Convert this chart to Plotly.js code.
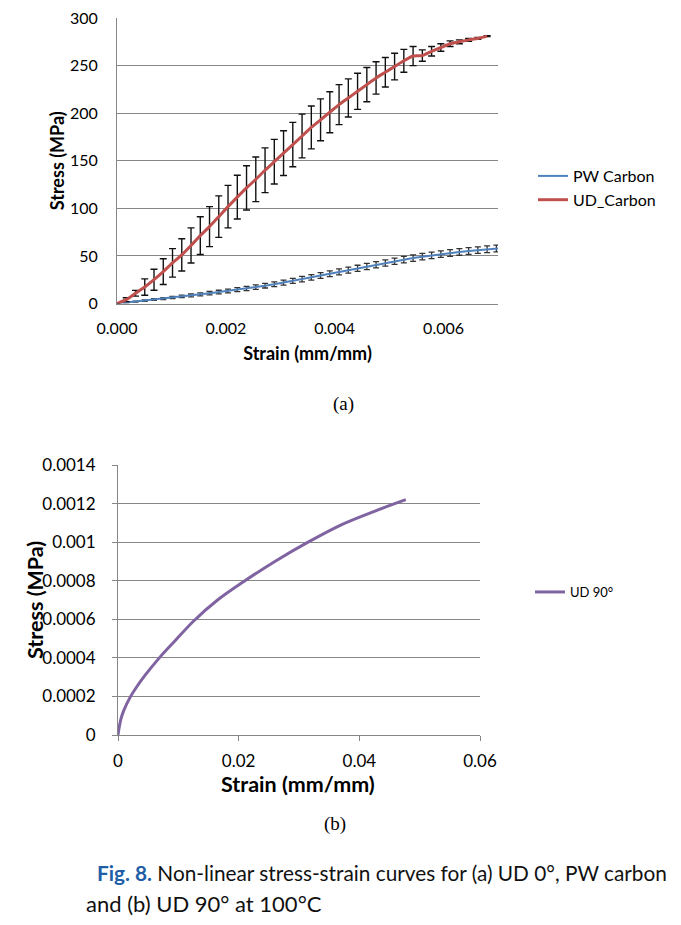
<!DOCTYPE html>
<html>
<head>
<meta charset="utf-8">
<script src="https://cdn.plot.ly/plotly-3.0.1.min.js"></script>
<style>
  body { margin: 0; background: #fff; }
  #chart { width: 681px; height: 925px; }
</style>
</head>
<body>
<div id="chart"></div>
<script>
// (a) UD 0° and PW carbon
const strainUD = [0, 0.00017, 0.00034, 0.00051, 0.00068, 0.00085, 0.00102, 0.00119, 0.00136, 0.00153,
  0.0017, 0.00187, 0.00204, 0.00221, 0.00238, 0.00255, 0.00272, 0.00289, 0.00306, 0.00323,
  0.0034, 0.00357, 0.00374, 0.00391, 0.00408, 0.00425, 0.00442, 0.00459, 0.00476, 0.00493,
  0.0051, 0.00527, 0.00544, 0.00561, 0.00578, 0.00595, 0.00612, 0.00629, 0.00646, 0.00663, 0.0068];
const stressUD = [0, 4, 10.8, 17.3, 25, 33.5, 42.7, 51.1, 61, 71.3,
  80.8, 91.3, 101.8, 111.8, 121.5, 130.5, 140, 149, 158, 167,
  176, 185, 193, 201, 209, 216, 223, 230, 237, 243,
  249, 255, 260, 260.5, 265, 269, 273, 275, 277, 278.5, 281];
const errUD = [0, 2, 3, 8.6, 11, 13.5, 15, 17, 18.5, 19.8,
  21, 21.8, 22.3, 23, 23.3, 23.5, 23.5, 23.5, 23.5, 23.3,
  23, 22.5, 22, 21.5, 21, 20, 19, 18, 17, 15.5,
  14, 12, 10, 6, 5, 4, 3, 2, 1.5, 1, 0.5];

const strainPW = [0, 0.00017, 0.00034, 0.00051, 0.00068, 0.00085, 0.00102, 0.00119, 0.00136, 0.00153,
  0.0017, 0.00187, 0.00204, 0.00221, 0.00238, 0.00255, 0.00272, 0.00289, 0.00306, 0.00323,
  0.0034, 0.00357, 0.00374, 0.00391, 0.00408, 0.00425, 0.00442, 0.00459, 0.00476, 0.00493,
  0.0051, 0.00527, 0.00544, 0.00561, 0.00578, 0.00595, 0.00612, 0.00629, 0.00646, 0.00663,
  0.0068, 0.00697, 0.00714];
const stressPW = [0, 1.0, 2.0, 3.0, 4.1, 5.2, 6.3, 7.4, 8.5, 9.6,
  10.8, 12.0, 13.2, 14.5, 15.8, 17.2, 18.7, 20.3, 22.0, 23.8,
  25.6, 27.5, 29.4, 31.3, 33.2, 35.1, 37.0, 38.9, 40.8, 42.6,
  44.4, 46.1, 47.7, 49.2, 50.6, 51.9, 53.1, 54.2, 55.2, 56.1,
  57.0, 57.8, 58.6];
const errPW = [0, 0.3, 0.5, 0.7, 0.9, 1.0, 1.2, 1.3, 1.5, 1.6,
  1.8, 1.9, 2.0, 2.1, 2.2, 2.3, 2.4, 2.5, 2.6, 2.7,
  2.8, 2.9, 3.0, 3.0, 3.1, 3.1, 3.2, 3.2, 3.3, 3.3,
  3.3, 3.4, 3.4, 3.4, 3.4, 3.5, 3.5, 3.5, 3.5, 3.5,
  3.5, 3.5, 3.5];

// (b) UD 90°
const strain90 = [0, 0.0002, 0.0005, 0.001, 0.002, 0.003, 0.0045, 0.00685, 0.0095, 0.0125,
  0.0165, 0.0208, 0.026, 0.0315, 0.037, 0.0425, 0.0477];
const stress90 = [0, 0.00004, 0.000085, 0.00013, 0.000195, 0.000245, 0.00031, 0.0004, 0.00049, 0.00059,
  0.0007, 0.000795, 0.0009, 0.001, 0.00109, 0.00116, 0.00122];

const yTicksB = [0, 0.0002, 0.0004, 0.0006, 0.0008, 0.001, 0.0012, 0.0014];
const yTickTextB = ["0", "0.0002", "0.0004", "0.0006", "0.0008", "0.001", "0.0012", "0.0014"];

const W = 681, H = 925;
const px = v => v / W;
const py = v => 1 - v / H;
const GRID = "#878787";

const traces = [
  {
    x: strainPW, y: stressPW, name: "PW Carbon", type: "scatter", mode: "lines",
    line: { color: "#4f81bd", width: 2 },
    error_y: { type: "data", array: errPW, color: "#333", thickness: 1.3, width: 3 },
    xaxis: "x", yaxis: "y", legend: "legend"
  },
  {
    x: strainUD, y: stressUD, name: "UD_Carbon", type: "scatter", mode: "lines",
    line: { color: "#c0504d", width: 3, shape: "spline", smoothing: 0.6 },
    error_y: { type: "data", array: errUD, color: "#111", thickness: 1.4, width: 3.5 },
    xaxis: "x", yaxis: "y", legend: "legend"
  },
  {
    x: strain90, y: stress90, name: "UD 90°", type: "scatter", mode: "lines",
    line: { color: "#8064a2", width: 3, shape: "spline", smoothing: 1 },
    xaxis: "x2", yaxis: "y2", legend: "legend2"
  }
];

const tickFontA = { family: "Lato, sans-serif", size: 16, color: "#000" };
const tickFontB = { family: "Lato, sans-serif", size: 17, color: "#000" };
const titleFontA = { family: "Lato, sans-serif", size: 18, color: "#000", weight: "bold" };
const titleFontB = { family: "Lato, sans-serif", size: 21.5, color: "#000", weight: "bold" };

// paper-referenced text, centred on the given pixel
const note = (text, x, y, font, extra = {}) => ({
  text, xref: "paper", yref: "paper", x: px(x), y: py(y),
  xanchor: "center", yanchor: "middle", showarrow: false, font, ...extra
});

const layout = {
  width: W, height: H,
  margin: { l: 0, r: 0, t: 0, b: 0 },
  paper_bgcolor: "#fff", plot_bgcolor: "#fff",
  font: { family: "Lato, sans-serif", color: "#000" },
  xaxis: {
    domain: [px(117), px(498)], anchor: "y", range: [0, 0.007],
    tickvals: [0, 0.002, 0.004, 0.006], tickformat: ".3f",
    showgrid: false, zeroline: false, showline: true, linecolor: GRID, linewidth: 1,
    ticks: "", tickfont: tickFontA, ticklabelstandoff: 10,
    title: { text: "Strain (mm/mm)", font: titleFontA, standoff: 11 }
  },
  yaxis: {
    domain: [py(303.5), py(18)], anchor: "x", range: [0, 300], dtick: 50,
    showgrid: true, gridcolor: GRID, gridwidth: 1, zeroline: false,
    showline: true, linecolor: GRID, ticks: "", tickfont: tickFontA, ticklabelstandoff: 15,
    title: { text: "Stress (MPa)", font: titleFontA, standoff: 0 }
  },
  xaxis2: {
    domain: [px(118), px(480)], anchor: "y2", range: [0, 0.06],
    tickvals: [0, 0.02, 0.04, 0.06], ticktext: ["0", "0.02", "0.04", "0.06"],
    showgrid: false, zeroline: false, showline: true, linecolor: GRID,
    ticks: "outside", ticklen: 5, tickcolor: GRID,
    tickfont: tickFontB, ticklabelstandoff: 6
  },
  yaxis2: {
    domain: [py(735), py(465)], anchor: "x2", range: [0, 0.0014],
    tickvals: yTicksB, ticktext: yTickTextB,
    showgrid: true, gridcolor: GRID, zeroline: false, showline: true, linecolor: GRID,
    ticks: "outside", ticklen: 5, tickcolor: GRID,
    tickfont: tickFontB, ticklabelstandoff: 13
  },
  legend: {
    x: px(533), y: py(159), xanchor: "left", yanchor: "top",
    bgcolor: "rgba(0,0,0,0)", font: { family: "Lato, sans-serif", size: 16, color: "#000" },
    itemwidth: 30, tracegroupgap: 0
  },
  legend2: {
    x: px(530), y: py(577), xanchor: "left", yanchor: "top",
    bgcolor: "rgba(0,0,0,0)", font: { family: "Lato, sans-serif", size: 13, color: "#000" },
    itemwidth: 30
  },
  annotations: [
    // axis titles of panel (b), placed to sit against the tick labels like the original
    note("Strain (mm/mm)", 298, 784, titleFontB),
    note("Stress (MPa)", 35, 600, titleFontB, { textangle: -90 }),
    note("(a)", 343, 404, { family: "Liberation Serif, serif", size: 19, color: "#000" }),
    note("(b)", 335, 824, { family: "Liberation Serif, serif", size: 19, color: "#000" }),
    note('<span style="color:#1f5fa8"><b>Fig. 8.</b></span> Non-linear stress-strain curves for (a) UD 0°, PW carbon',
      95, 872, { family: "Lato, sans-serif", size: 20.8, color: "#111" }, { xanchor: "left" }),
    note("and (b) UD 90° at 100°C",
      84, 903, { family: "Lato, sans-serif", size: 22, color: "#111" }, { xanchor: "left" })
  ]
};

Plotly.newPlot("chart", traces, layout, { staticPlot: true, displayModeBar: false });
</script>
</body>
</html>
